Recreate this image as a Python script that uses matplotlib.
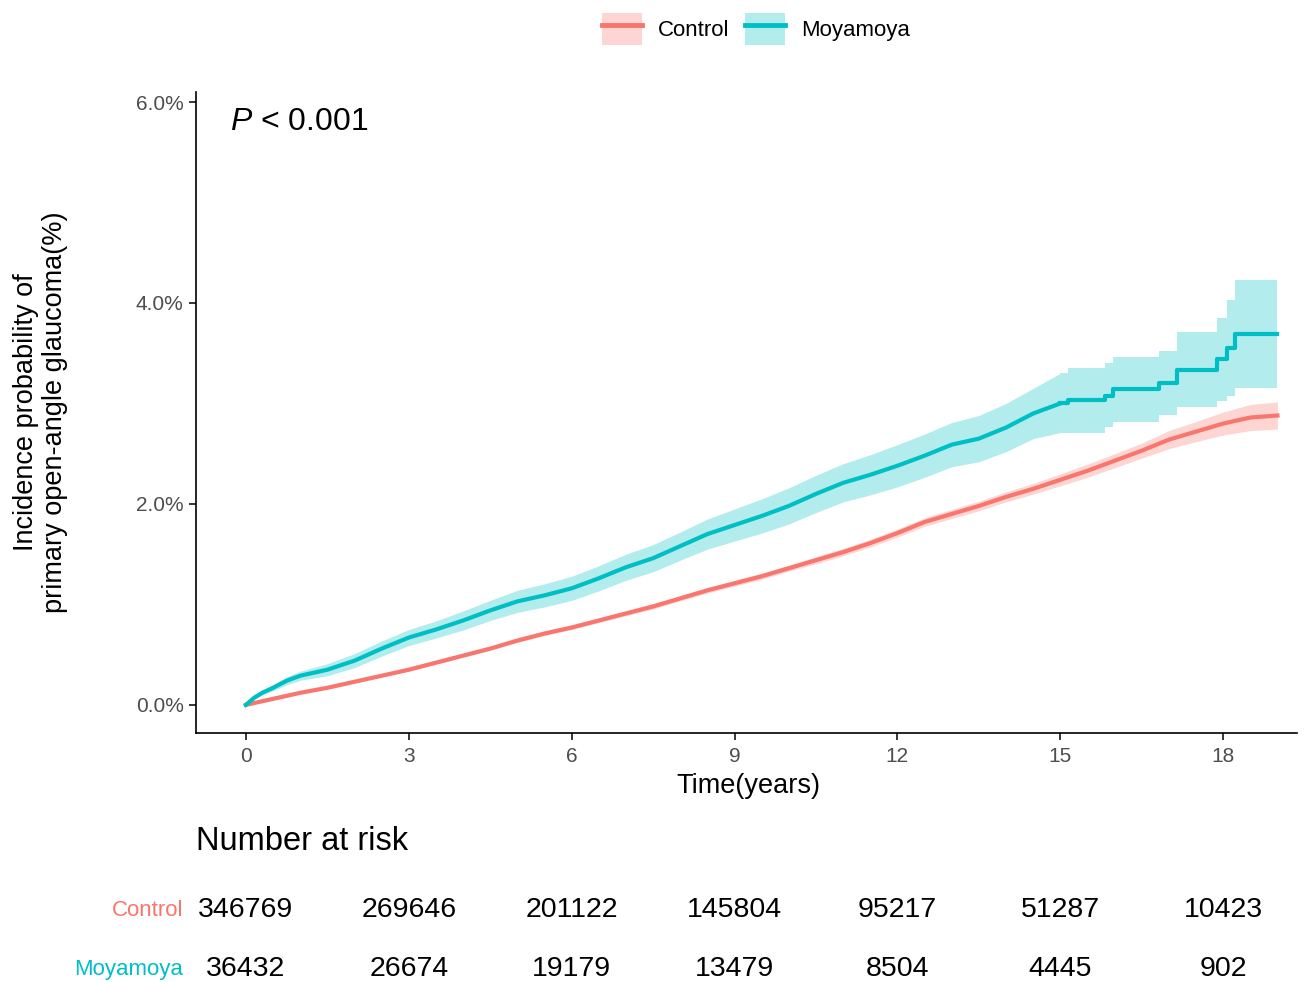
import matplotlib
matplotlib.use('Agg')
import matplotlib.pyplot as plt
from matplotlib.patches import Patch
from matplotlib.lines import Line2D
from matplotlib.transforms import blended_transform_factory

plt.rcParams['font.family'] = ['Liberation Sans', 'DejaVu Sans']
plt.rcParams['mathtext.fontset'] = 'custom'
plt.rcParams['mathtext.it'] = 'Liberation Sans:italic'
plt.rcParams['mathtext.rm'] = 'Liberation Sans'

# ---------------- data ----------------
groups = ["Control", "Moyamoya"]
colors = {"Control": "#F8766D", "Moyamoya": "#00BFC4"}
band_colors = {"Control": "#FDD6D3", "Moyamoya": "#B2ECED"}

# dense part (many tiny steps -> drawn as a line)
ctrl_t = [0, 0.5, 1.0, 1.5, 2.0, 2.5, 3.0, 3.5, 4.0, 4.5, 5.0, 5.5, 6.0, 6.5, 7.0,
          7.5, 8.0, 8.5, 9.0, 9.5, 10.0, 10.5, 11.0, 11.5, 12.0, 12.5, 13.0, 13.5,
          14.0, 14.5, 15.0, 15.5, 16.0, 16.5, 17.0, 17.5, 18.0, 18.5, 19.0]
ctrl_est = [0, 0.06, 0.12, 0.17, 0.23, 0.29, 0.35, 0.42, 0.49, 0.56, 0.64, 0.71, 0.77,
            0.84, 0.91, 0.98, 1.06, 1.14, 1.21, 1.28, 1.36, 1.44, 1.52, 1.61, 1.71,
            1.82, 1.90, 1.98, 2.07, 2.15, 2.24, 2.33, 2.43, 2.53, 2.64, 2.72, 2.80,
            2.86, 2.88]
ctrl_lo = [0, 0.055, 0.112, 0.16, 0.22, 0.278, 0.337, 0.405, 0.475, 0.545, 0.622, 0.69,
           0.75, 0.818, 0.887, 0.955, 1.035, 1.113, 1.182, 1.25, 1.33, 1.405, 1.483,
           1.572, 1.67, 1.778, 1.855, 1.932, 2.02, 2.097, 2.18, 2.265, 2.36, 2.455,
           2.55, 2.62, 2.685, 2.73, 2.745]
ctrl_hi = [0, 0.065, 0.128, 0.18, 0.24, 0.302, 0.363, 0.435, 0.505, 0.575, 0.658, 0.73,
           0.79, 0.862, 0.933, 1.005, 1.085, 1.167, 1.238, 1.31, 1.39, 1.475, 1.557,
           1.648, 1.75, 1.862, 1.945, 2.028, 2.12, 2.203, 2.30, 2.395, 2.50, 2.605,
           2.73, 2.82, 2.915, 2.99, 3.015]

moya_t = [0, 0.15, 0.3, 0.5, 0.75, 1.0, 1.5, 2.0, 2.5, 3.0, 3.5, 4.0, 4.5, 5.0, 5.5,
          6.0, 6.5, 7.0, 7.5, 8.0, 8.5, 9.0, 9.5, 10.0, 10.5, 11.0, 11.5, 12.0,
          12.5, 13.0, 13.5, 14.0, 14.5, 15.0]
moya_est = [0, 0.07, 0.12, 0.17, 0.24, 0.29, 0.35, 0.44, 0.56, 0.67, 0.75, 0.84, 0.94,
            1.03, 1.09, 1.16, 1.26, 1.37, 1.46, 1.58, 1.70, 1.79, 1.88, 1.98, 2.10,
            2.21, 2.29, 2.38, 2.48, 2.59, 2.65, 2.76, 2.90, 3.00]
moya_lo = [0, 0.055, 0.10, 0.14, 0.20, 0.245, 0.29, 0.37, 0.485, 0.59, 0.665, 0.745,
           0.84, 0.92, 0.975, 1.04, 1.135, 1.24, 1.325, 1.44, 1.55, 1.63, 1.71, 1.80,
           1.915, 2.02, 2.09, 2.17, 2.265, 2.37, 2.42, 2.52, 2.65, 2.71]
moya_hi = [0, 0.085, 0.14, 0.20, 0.28, 0.335, 0.41, 0.51, 0.635, 0.75, 0.835, 0.935,
           1.04, 1.14, 1.205, 1.28, 1.385, 1.50, 1.595, 1.72, 1.85, 1.95, 2.05, 2.16,
           2.285, 2.40, 2.49, 2.59, 2.695, 2.81, 2.88, 3.00, 3.15, 3.30]

# sparse late part of Moyamoya (visible steps)
moya_tail_t = [15.0, 15.15, 15.83, 15.98, 16.81, 17.15, 17.88, 18.07, 18.22, 18.99]
moya_tail_est = [3.00, 3.03, 3.07, 3.14, 3.20, 3.33, 3.44, 3.55, 3.69, 3.69]
moya_tail_lo = [2.71, 2.71, 2.77, 2.82, 2.89, 2.96, 3.02, 3.07, 3.15, 3.15]
moya_tail_hi = [3.30, 3.35, 3.40, 3.46, 3.52, 3.71, 3.85, 4.03, 4.23, 4.23]

risk_times = [0, 3, 6, 9, 12, 15, 18]
risk_control = [346769, 269646, 201122, 145804, 95217, 51287, 10423]
risk_moyamoya = [36432, 26674, 19179, 13479, 8504, 4445, 902]
y_ticks = [0, 2, 4, 6]
p_text = "$P$ < 0.001"

# ---------------- figure ----------------
W, H = 1307, 982
fig = plt.figure(figsize=(W / 100, H / 100), dpi=100)
ax = fig.add_axes([196 / W, 1 - 733 / H, (1297 - 196) / W, (733 - 92) / H])

red, teal = colors["Control"], colors["Moyamoya"]
red_b, teal_b = band_colors["Control"], band_colors["Moyamoya"]

ax.fill_between(ctrl_t, ctrl_lo, ctrl_hi, color=red_b, linewidth=0)
ax.fill_between(moya_t, moya_lo, moya_hi, color=teal_b, linewidth=0)
ax.fill_between(moya_tail_t, moya_tail_lo, moya_tail_hi, step='post',
                color=teal_b, linewidth=0)

ax.plot(ctrl_t, ctrl_est, color=red, linewidth=3.0, solid_joinstyle='round')
ax.plot(moya_t, moya_est, color=teal, linewidth=3.0, solid_joinstyle='round')
ax.step(moya_tail_t, moya_tail_est, where='post', color=teal, linewidth=3.0)

ax.set_xlim(-0.92, 19.36)
ax.set_ylim(-0.28, 6.10)
ax.set_xticks(risk_times)
ax.set_xticklabels([str(v) for v in risk_times])
ax.set_yticks(y_ticks)
ax.set_yticklabels([f"{v:.1f}%" for v in y_ticks])
for s in ['top', 'right']:
    ax.spines[s].set_visible(False)
for s in ['left', 'bottom']:
    ax.spines[s].set_linewidth(1.2)
ax.tick_params(axis='both', length=5, width=1.1, color='black',
               labelcolor='#4D4D4D', labelsize=15)
ax.tick_params(axis='x', pad=5)
ax.tick_params(axis='y', pad=4)

ax.text(-0.29, 5.80, p_text, fontsize=23, ha='left', va='center')

fig.text(748 / W, 1 - 786 / H, "Time(years)", fontsize=19.5, ha='center',
         va='center')
fig.text(41 / W, 1 - 412 / H,
         "Incidence probability of\nprimary open-angle glaucoma(%)",
         fontsize=19.5, rotation=90, ha='center', va='center',
         multialignment='center', linespacing=1.15)

# legend
handles = [(Patch(facecolor=band_colors[g], edgecolor='none'),
            Line2D([], [], color=colors[g], linewidth=3.5)) for g in groups]
fig.legend(handles, groups, loc='center', bbox_to_anchor=(756 / W, 1 - 29 / H),
           ncol=2, frameon=False, fontsize=16, handlelength=1.8,
           handleheight=1.8, handletextpad=0.72, columnspacing=0.72)

# risk table
tr = blended_transform_factory(ax.transData, fig.transFigure)
fig.text(196 / W, 1 - 842 / H, "Number at risk", fontsize=23.5, ha='left',
         va='center')
rows = [("Control", risk_control, 910), ("Moyamoya", risk_moyamoya, 969)]
for name, vals, ypx in rows:
    fig.text(183 / W, 1 - ypx / H, name, color=colors[name], fontsize=16,
             ha='right', va='center')
    for tt, v in zip(risk_times, vals):
        ax.text(tt, 1 - ypx / H, str(v), transform=tr, fontsize=20.5,
                ha='center', va='center', clip_on=False)

fig.savefig("out.png", dpi=100)
